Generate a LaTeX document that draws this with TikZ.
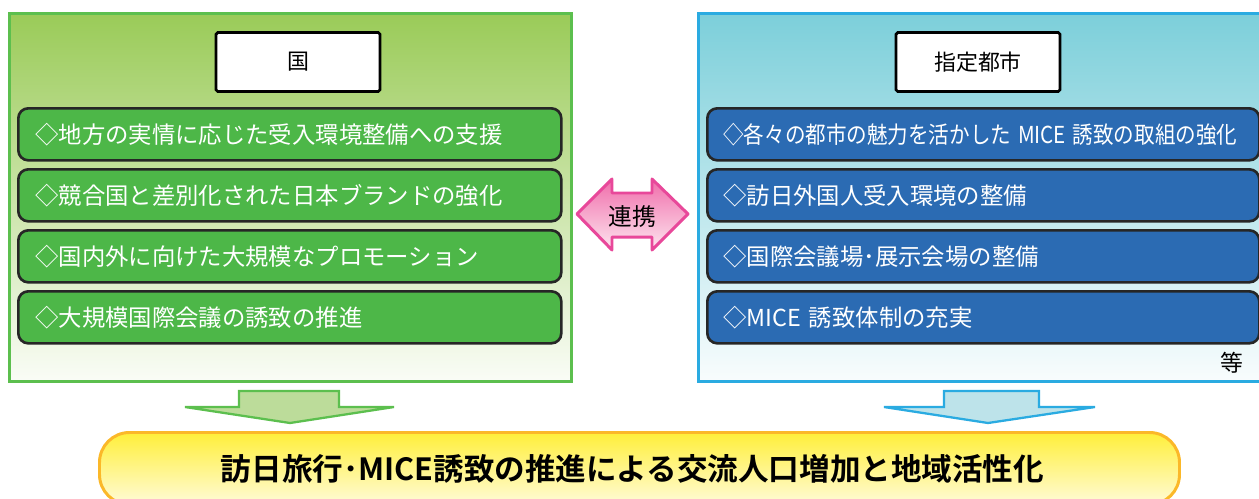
\documentclass[tikz,border=0pt]{standalone}
\usepackage{fontspec}
\setmainfont{Noto Sans CJK JP}[BoldFont={Noto Sans CJK JP Bold}]
\usepackage{graphicx}
\usetikzlibrary{positioning}

\definecolor{kuniline}{HTML}{5CBF4E}
\definecolor{kunitop}{HTML}{9ACB58}
\definecolor{kuniitem}{HTML}{4DB748}
\definecolor{kuniarrow}{HTML}{BCDC9A}
\definecolor{toshiline}{HTML}{2AABE1}
\definecolor{toshitop}{HTML}{7CCFDA}
\definecolor{toshiitem}{HTML}{2B6BB3}
\definecolor{toshiarrow}{HTML}{BDE3EA}
\definecolor{goalline}{HTML}{FBB829}
\definecolor{goaltop}{HTML}{FFEF3A}
\definecolor{goalbottom}{HTML}{FFFBD8}
\definecolor{renkeiline}{HTML}{E8489A}
\definecolor{renkeitop}{HTML}{F06DAA}
\definecolor{renkeibottom}{HTML}{FDE6F0}

\begin{document}
\begin{tikzpicture}[x=0.02cm,y=-0.02cm,
    every node/.style={inner sep=0pt},
    outer/.style={anchor=north west,line width=1.7pt,minimum height=368*0.02cm},
    titlebox/.style={draw=black,fill=white,line width=1.6pt,rounded corners=1pt,
      minimum width=164*0.02cm,minimum height=59*0.02cm,font=\fontsize{12.5}{15}\selectfont},
    item/.style={draw=black!85,line width=1.5pt,rounded corners=0.2cm,anchor=north west,
      minimum height=52*0.02cm,text=white,align=left,font=\fontsize{13.3}{16}\selectfont},
    kitem/.style={item,fill=kuniitem,text width=509*0.02cm,inner xsep=17*0.02cm},
    titem/.style={item,fill=toshiitem,text width=520*0.02cm,inner xsep=16*0.02cm},
    downarrow/.style={line width=1.3pt,line join=miter}]
  \useasboundingbox (0,0) rectangle (1259,498);
  \clip (0,0) rectangle (1259,498);

  % left side
  \node[outer,draw=kuniline,top color=kunitop,bottom color=kunitop!5,minimum width=562*0.02cm] (kuni) at (8,12) {};
  \node[titlebox] (kunititle) at (298,62) {国};
  \node[kitem] (k1) at (17,107) {◇地方の実情に応じた受入環境整備への支援};
  \node[kitem] (k2) at (17,168) {◇競合国と差別化された日本ブランドの強化};
  \node[kitem] (k3) at (17,229) {◇国内外に向けた大規模なプロモーション};
  \node[kitem] (k4) at (17,290) {◇大規模国際会議の誘致の推進};

  % right side
  \node[outer,draw=toshiline,top color=toshitop,bottom color=toshitop!5,minimum width=600*0.02cm] (toshi) at (697,12) {};
  \node[titlebox] (toshititle) at (978,62) {指定都市};
  \node[titem] (t1) at (706,107) {\scalebox{0.88}[1]{◇各々の都市の魅力を活かした MICE 誘致の取組の強化}};
  \node[titem] (t2) at (706,168) {◇訪日外国人受入環境の整備};
  \node[titem] (t3) at (706,229) {◇国際会議場･展示会場の整備};
  \node[titem] (t4) at (706,290) {◇MICE 誘致体制の充実};
  \node[font=\fontsize{13}{15}\selectfont] (etc) at (1232,363) {等};

  % renkei
  \draw[draw=renkeiline,line width=1.7pt,line join=round,top color=renkeitop,bottom color=renkeibottom]
    (577,214) -- (612,179) -- (612,193) -- (652,193) -- (652,179) -- (688,214)
    -- (652,250) -- (652,237) -- (612,237) -- (612,250) -- cycle;
  \node[font=\fontsize{13.5}{16}\selectfont] (renkei) at (632,217) {連携};

  % down arrows
  \draw[downarrow,draw=kuniline,fill=kuniarrow]
    (239,391) -- (339,391) -- (339,407) -- (394,407) -- (290,423) -- (185,407) -- (239,407) -- cycle;
  \draw[downarrow,draw=toshiline,fill=toshiarrow]
    (944,391) -- (1039,391) -- (1039,407) -- (1095,407) -- (988,423) -- (884,407) -- (944,407) -- cycle;

  % goal
  \node[anchor=north west,draw=goalline,line width=1.7pt,rounded corners=0.6cm,
    top color=goaltop,bottom color=goalbottom,minimum width=1080*0.02cm,minimum height=72*0.02cm,
    font=\bfseries\fontsize{17.4}{20}\selectfont] (goal) at (98,431)
    {\hspace*{-0.28cm}訪日旅行･MICE誘致の推進による交流人口増加と地域活性化};
\end{tikzpicture}
\end{document}
